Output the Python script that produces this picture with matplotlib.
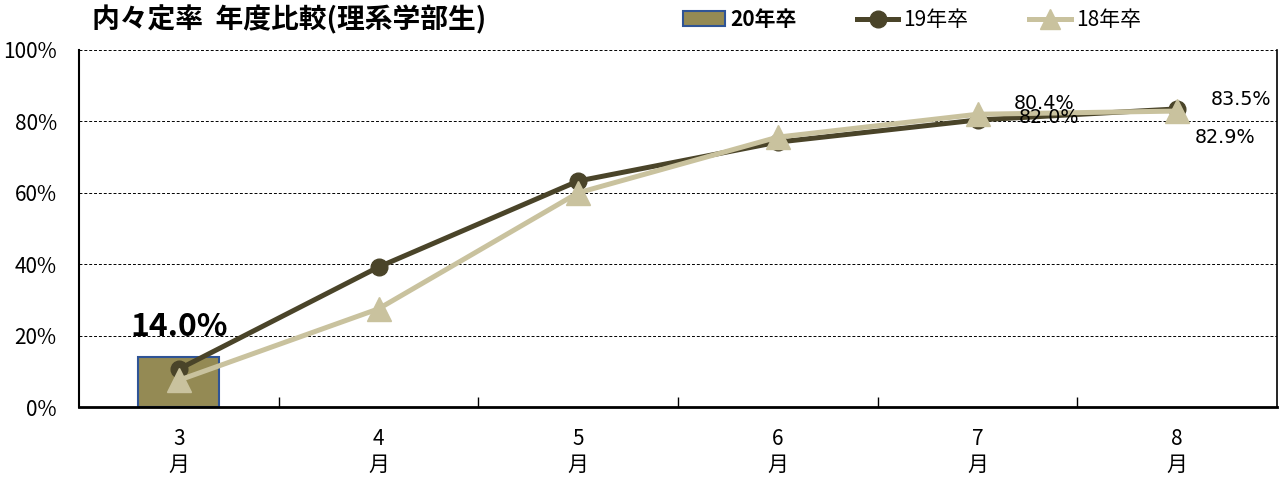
import matplotlib
matplotlib.use('Agg')
import matplotlib.pyplot as plt
from matplotlib.lines import Line2D
from matplotlib.patches import Patch
import numpy as np

plt.rcParams['font.family'] = ['Noto Sans CJK JP', 'DejaVu Sans']

# データ
months = ['3\n月', '4\n月', '5\n月', '6\n月', '7\n月', '8\n月']
y20 = [14.0]                                  # 20年卒（3月のみ）
y19 = [10.6, 39.2, 63.3, 74.2, 80.4, 83.5]    # 19年卒
y18 = [7.5, 27.5, 60.0, 75.6, 82.0, 82.9]     # 18年卒

color20 = '#948A54'
edge20 = '#2F5496'
color19 = '#4A4429'
color18 = '#C9C29E'

fig = plt.figure(figsize=(12.82, 4.84), dpi=100)
ax = fig.add_axes([79/1282, 77/484, (1277-79)/1282, (407-50)/484])

x = np.arange(len(months))

ax.bar(x[:len(y20)], y20, width=0.405, color=color20, edgecolor=edge20, linewidth=1.5, zorder=2)
ax.plot(x, y19, color=color19, linewidth=3.6, marker='o', markersize=12, zorder=3)
ax.plot(x, y18, color=color18, linewidth=3.6, marker='^', markersize=17, zorder=4)

# データラベル
ax.annotate('14.0%', (0, y20[0]), xytext=(0, 30), textcoords='offset pixels',
            ha='center', va='center', fontsize=23, fontweight='bold', zorder=5)
lab = [(4, y19[4], '80.4%', 67, 16), (4, y18[4], '82.0%', 72, -3),
       (5, y19[5], '83.5%', 64, 9), (5, y18[5], '82.9%', 48, -26)]
for xi, yi, t, dx, dy in lab:
    ax.annotate(t, (xi, yi), xytext=(dx, dy), textcoords='offset pixels',
                ha='center', va='center', fontsize=13.8, family='DejaVu Sans', zorder=5)

ax.set_xlim(-0.5, 5.5)
ax.set_ylim(0, 100)
ax.set_yticks([0, 20, 40, 60, 80, 100])
ax.set_yticklabels(['0%', '20%', '40%', '60%', '80%', '100%'])
ax.set_xticks(x)
ax.set_xticklabels(months, linespacing=1.25)
ax.set_xticks(np.arange(0.5, 5.5, 1), minor=True)

ax.tick_params(axis='y', length=0, labelsize=15, pad=16)
ax.tick_params(axis='x', which='major', length=0, labelsize=15, pad=15)
ax.tick_params(axis='x', which='minor', direction='in', length=7, width=1)

ax.grid(axis='y', color='black', linestyle=(0, (3, 2)), linewidth=0.7, zorder=0)
ax.set_axisbelow(True)

ax.spines['top'].set_visible(False)
ax.spines['left'].set_linewidth(1.5)
ax.spines['bottom'].set_linewidth(2)
ax.spines['right'].set_linewidth(1.2)

# タイトル
fig.text(92/1282, 1 - 20/484, '内々定率  年度比較(理系学部生)', ha='left', va='center',
         fontsize=20, fontweight='bold')

# 凡例
handles = [Patch(facecolor=color20, edgecolor=edge20, linewidth=1.5),
           Line2D([], [], color=color19, linewidth=3.6, marker='o', markersize=12),
           Line2D([], [], color=color18, linewidth=3.6, marker='^', markersize=14)]
leg = fig.legend(handles, ['20年卒', '19年卒', '18年卒'], ncol=3, loc='center left',
                 bbox_to_anchor=(683/1282, 1 - 20/484), frameon=False, borderpad=0,
                 borderaxespad=0, fontsize=15, handlelength=2.0, handletextpad=0.25,
                 columnspacing=2.9)
leg.get_texts()[0].set_fontweight('bold')

fig.savefig('out.png', dpi=100)
